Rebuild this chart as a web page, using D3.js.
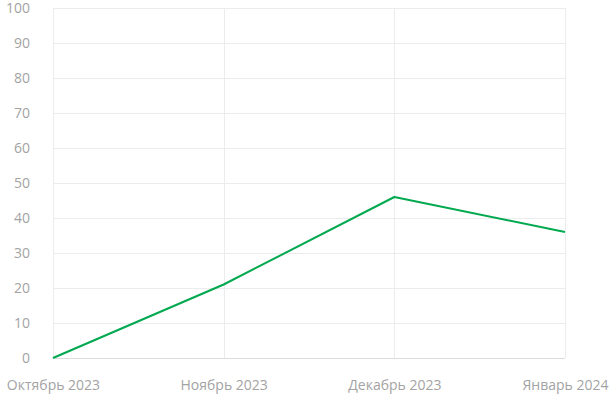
<!DOCTYPE html>
<html><head><meta charset="utf-8">
<script src="https://cdn.jsdelivr.net/npm/d3@7"></script>
<style>body{margin:0;background:#fff}svg{display:block}text{font-family:"Open Sans",sans-serif}</style>
</head><body><svg id="c" width="610" height="412"></svg>
<script>
const categories = ["Октябрь 2023","Ноябрь 2023","Декабрь 2023","Январь 2024"];
const values = [0, 21, 46, 36];
const yTicks = [0,10,20,30,40,50,60,70,80,90,100];

const svg = d3.select("#c");
const m = {l:53, r:45, t:8, b:54};
const W = 610, H = 412;
const x = d3.scalePoint().domain(categories).range([m.l, W - m.r]);
const y = d3.scaleLinear().domain([0,100]).range([H - m.b, m.t]);

svg.append("g").selectAll("line").data(yTicks).join("line")
  .attr("x1", m.l).attr("x2", W - m.r)
  .attr("y1", d => Math.round(y(d)) + 0.5).attr("y2", d => Math.round(y(d)) + 0.5)
  .attr("stroke", d => d === 0 ? "#dcdcdc" : "#ececec").attr("stroke-width", 1);
svg.append("g").selectAll("line").data(categories).join("line")
  .attr("x1", d => Math.round(x(d)) + 0.5).attr("x2", d => Math.round(x(d)) + 0.5)
  .attr("y1", y(100)).attr("y2", y(0))
  .attr("stroke", "#ececec").attr("stroke-width", 1);

const ya = svg.append("g").attr("transform", `translate(30,0)`)
  .call(d3.axisLeft(y).tickValues(yTicks).tickSize(0).tickPadding(0));
ya.select(".domain").remove();
ya.selectAll("text").attr("fill", "#a3a3a3").style("font-size", "14px").attr("dy", "0.35em");

const xa = svg.append("g").attr("transform", `translate(0,${y(0)})`)
  .call(d3.axisBottom(x).tickSize(0).tickPadding(22));
xa.select(".domain").remove();
xa.selectAll("text").attr("fill", "#a3a3a3").style("font-size", "14px");

svg.append("path").datum(values)
  .attr("fill", "none").attr("stroke", "#00a94f").attr("stroke-width", 2)
  .attr("stroke-linejoin", "round")
  .attr("d", d3.line().x((d,i) => x(categories[i])).y(d => y(d)));
</script></body></html>
